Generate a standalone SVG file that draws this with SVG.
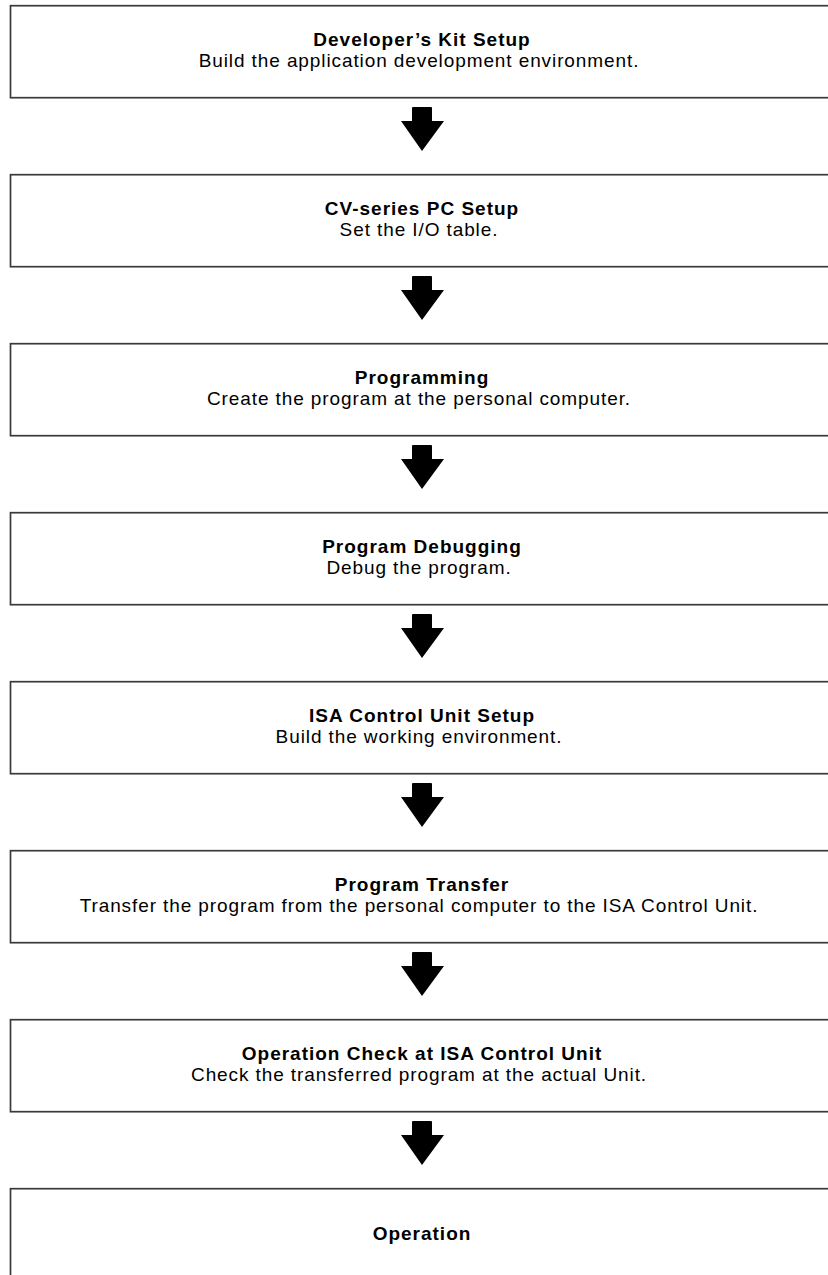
<svg xmlns="http://www.w3.org/2000/svg" width="828" height="1275" viewBox="0 0 828 1275">
<style>
.box{fill:#fff;stroke:#3a3a3a;stroke-width:1.7}
.t{font-family:"Liberation Sans",Arial,sans-serif;font-size:19px;font-weight:bold;text-anchor:middle;letter-spacing:1px;fill:#000}
.s{font-family:"Liberation Sans",Arial,sans-serif;font-size:19px;text-anchor:middle;letter-spacing:0.9px;fill:#000}
.arr{fill:#000}
</style>
<defs>
<path id="arrow" d="M412,108 Q412,107 413,107 L431,107 Q432,107 432,108 L432,121 L444,121 L422,151 L401,121 L412,121 Z"/>
</defs>
<rect width="828" height="1275" fill="#fff"/>
<g id="node1"><rect class="box" x="10.5" y="5.7" width="830" height="92"/><text class="t" x="422" y="46">Developer’s Kit Setup</text><text class="s" x="419" y="67">Build the application development environment.</text></g>
<g id="node2"><rect class="box" x="10.5" y="174.7" width="830" height="92"/><text class="t" x="422" y="215">CV-series PC Setup</text><text class="s" x="419" y="236">Set the I/O table.</text></g>
<g id="node3"><rect class="box" x="10.5" y="343.7" width="830" height="92"/><text class="t" x="422" y="384">Programming</text><text class="s" x="419" y="405">Create the program at the personal computer.</text></g>
<g id="node4"><rect class="box" x="10.5" y="512.7" width="830" height="92"/><text class="t" x="422" y="553">Program Debugging</text><text class="s" x="419" y="574">Debug the program.</text></g>
<g id="node5"><rect class="box" x="10.5" y="681.7" width="830" height="92"/><text class="t" x="422" y="722">ISA Control Unit Setup</text><text class="s" x="419" y="743">Build the working environment.</text></g>
<g id="node6"><rect class="box" x="10.5" y="850.7" width="830" height="92"/><text class="t" x="422" y="891">Program Transfer</text><text class="s" x="419" y="912">Transfer the program from the personal computer to the ISA Control Unit.</text></g>
<g id="node7"><rect class="box" x="10.5" y="1019.7" width="830" height="92"/><text class="t" x="422" y="1060">Operation Check at ISA Control Unit</text><text class="s" x="419" y="1081">Check the transferred program at the actual Unit.</text></g>
<g id="node8"><rect class="box" x="10.5" y="1188.7" width="830" height="92"/><text class="t" x="422" y="1240">Operation</text></g>
<g id="connectors">
<use href="#arrow" class="arr"/>
<use href="#arrow" class="arr" y="169"/>
<use href="#arrow" class="arr" y="338"/>
<use href="#arrow" class="arr" y="507"/>
<use href="#arrow" class="arr" y="676"/>
<use href="#arrow" class="arr" y="845"/>
<use href="#arrow" class="arr" y="1014"/>
</g>
</svg>
